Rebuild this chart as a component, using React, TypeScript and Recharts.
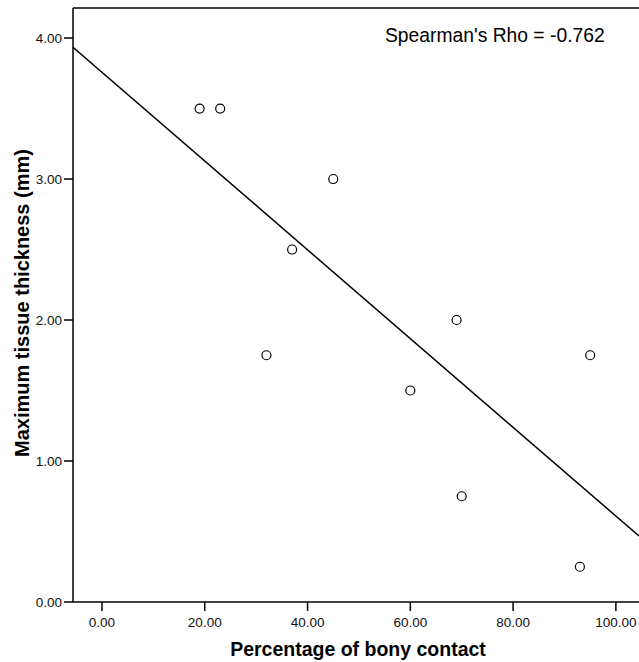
import React from 'react';
import { ComposedChart, XAxis, YAxis, Scatter, Line, ReferenceLine } from 'recharts';

const bonyContact = [19, 23, 45, 37, 32, 69, 60, 95, 70, 93];
const tissueThickness = [3.5, 3.5, 3.0, 2.5, 1.75, 2.0, 1.5, 1.75, 0.75, 0.25];
const fitX = [-5.64, 104.5];
const fitY = [3.934, 0.468];
const xTicks = [0, 20, 40, 60, 80, 100];
const yTicks = [0, 1, 2, 3, 4];
const xDomain: [number, number] = [-5.64, 104.5];
const yDomain: [number, number] = [0, 4.213];
const xTitle = 'Percentage of bony contact';
const yTitle = 'Maximum tissue thickness (mm)';
const annotation = "Spearman's Rho = -0.762";

const points = bonyContact.map((x, i) => ({ x, y: tissueThickness[i] }));
const fitLine = fitX.map((x, i) => ({ x, y: fitY[i] }));

const FONT = '"Liberation Sans", Arial, Helvetica, sans-serif';

const OpenCircle = (props: any) => {
  const { cx, cy } = props;
  if (cx == null || cy == null) return null;
  return <circle cx={cx} cy={cy} r={4.5} fill="#fff" stroke="#000" strokeWidth={1.2} />;
};

export default function App() {
  const tickStyle = { fontSize: 13.5, fill: '#111', fontFamily: FONT };
  return (
    <div style={{ position: 'absolute', left: 0, top: 0, width: 639, height: 662, background: '#fff', overflow: 'hidden' }}>
      <ComposedChart
        width={639}
        height={662}
        margin={{ top: 8, right: 0, bottom: 0, left: 0 }}
      >
        <XAxis
          type="number"
          dataKey="x"
          domain={xDomain}
          allowDataOverflow
          ticks={xTicks}
          tickFormatter={(v: number) => v.toFixed(2)}
          height={60}
          tickSize={9}
          tickMargin={6}
          tick={tickStyle}
          axisLine={{ stroke: '#000', strokeWidth: 1.5 }}
          tickLine={{ stroke: '#000', strokeWidth: 1.5 }}
        />
        <YAxis
          type="number"
          dataKey="y"
          domain={yDomain}
          allowDataOverflow
          ticks={yTicks}
          tickFormatter={(v: number) => v.toFixed(2)}
          width={73}
          tickSize={9}
          tickMargin={2}
          tick={tickStyle}
          axisLine={{ stroke: '#000', strokeWidth: 1.5 }}
          tickLine={{ stroke: '#000', strokeWidth: 1.5 }}
        />
        <ReferenceLine y={yDomain[1]} stroke="#000" strokeWidth={1.5} />
        <Line
          data={fitLine}
          dataKey="y"
          type="linear"
          stroke="#000"
          strokeWidth={1.5}
          dot={false}
          activeDot={false}
          isAnimationActive={false}
        />
        <Scatter data={points} dataKey="y" shape={OpenCircle} isAnimationActive={false} />
      </ComposedChart>
      <svg width={639} height={662} style={{ position: 'absolute', left: 0, top: 0, pointerEvents: 'none' }}>
        <text x={385} y={42} fontSize={19.3} fontFamily={FONT} fill="#000">{annotation}</text>
        <text x={358} y={656} fontSize={19.5} fontWeight="bold" fontFamily={FONT} fill="#000" textAnchor="middle">{xTitle}</text>
        <text
          x={29}
          y={303}
          fontSize={20}
          fontWeight="bold"
          fontFamily={FONT}
          fill="#000"
          textAnchor="middle"
          transform="rotate(-90 29 303)"
        >
          {yTitle}
        </text>
      </svg>
    </div>
  );
}
